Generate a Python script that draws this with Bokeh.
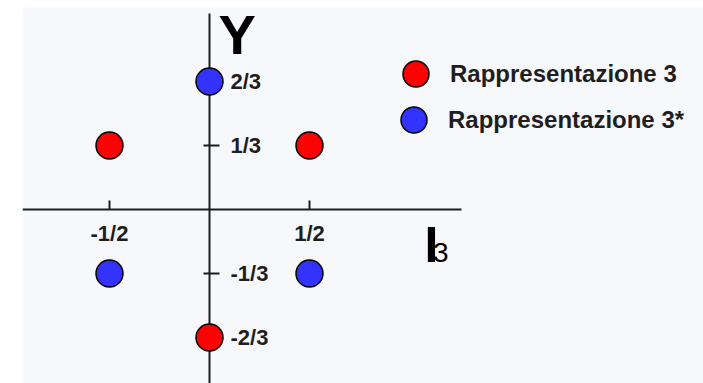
from bokeh.plotting import figure
from bokeh.models import (LinearAxis, FixedTicker, Label, Legend, LegendItem,
                          Range1d)
from bokeh.embed import file_html
from bokeh.resources import INLINE

# Weight diagram (I3, Y) of the quark triplet 3 and the antitriplet 3*
series_names = ["Rappresentazione 3", "Rappresentazione 3*"]
rep3_i3 = [-1/2, 1/2, 0]
rep3_y = [1/3, 1/3, -2/3]
rep3bar_i3 = [0, -1/2, 1/2]
rep3bar_y = [2/3, -1/3, -1/3]

x_ticks = [-1/2, 1/2]
x_tick_labels = ["-1/2", "1/2"]
y_ticks = [2/3, 1/3, -1/3, -2/3]
y_tick_labels = ["2/3", "1/3", "-1/3", "-2/3"]

FONT = "Liberation Sans"
INK = "#1e1e1e"

p = figure(width=703, height=383, output_backend="svg", toolbar_location=None,
           x_axis_location=None, y_axis_location=None,
           x_range=Range1d(-0.935, 2.47), y_range=Range1d(-0.906, 1.052),
           min_border_left=22, min_border_top=7, min_border_right=0,
           min_border_bottom=0)
p.grid.visible = False
p.outline_line_color = None
p.background_fill_color = "#f7f8fc"
p.border_fill_color = "white"

# Horizontal I3 axis through the origin
xaxis = LinearAxis(fixed_location=0, bounds=(-0.935, 1.26),
                   ticker=FixedTicker(ticks=x_ticks),
                   major_label_overrides=dict(zip(x_ticks, x_tick_labels)))
xaxis.major_tick_in = 9
xaxis.major_tick_out = 0
xaxis.major_label_standoff = 11
xaxis.minor_tick_line_color = None
xaxis.level = "underlay"
p.add_layout(xaxis, "below")

# Vertical Y axis through the origin, labels on its right
yaxis = LinearAxis(fixed_location=0, bounds=(-1.0, 1.02),
                   ticker=FixedTicker(ticks=y_ticks),
                   major_label_overrides=dict(zip(y_ticks, y_tick_labels)))
yaxis.major_tick_in = 6
yaxis.major_tick_out = 10
yaxis.major_label_standoff = 11
yaxis.minor_tick_line_color = None
yaxis.level = "underlay"
p.add_layout(yaxis, "right")

for ax in (xaxis, yaxis):
    ax.axis_line_width = 2
    ax.axis_line_color = INK
    ax.major_tick_line_width = 2
    ax.major_tick_line_color = INK
    ax.major_label_text_font = FONT
    ax.major_label_text_font_style = "bold"
    ax.major_label_text_font_size = "22px"
    ax.major_label_text_color = INK

r3 = p.scatter(x=rep3_i3, y=rep3_y, size=27, marker="circle",
               fill_color="#ff0000", line_color="black", line_width=1.5)
r3bar = p.scatter(x=rep3bar_i3, y=rep3bar_y, size=27, marker="circle",
                  fill_color="#3333ff", line_color="black", line_width=1.5)

# Axis titles
title_style = dict(text_font=FONT, text_color="black",
                   text_baseline="alphabetic")
p.add_layout(Label(x=0.045, y=0.91, text="Y", text_font_style="bold",
                   text_font_size="56px", **title_style))
p.add_layout(Label(x=1.075, y=-0.187, text="I", text_font_style="bold",
                   text_font_size="50px", **title_style))
p.add_layout(Label(x=1.117, y=-0.222, text="3",
                   text_font_size="28px", **title_style))


def legend_entry(label, renderer, loc):
    lg = Legend(items=[LegendItem(label=label, renderers=[renderer])],
                location=loc, orientation="vertical")
    lg.glyph_height = 65
    lg.glyph_width = 65
    lg.padding = 0
    lg.margin = 0
    lg.label_standoff = 2
    lg.border_line_color = None
    lg.background_fill_alpha = 0
    lg.label_text_font = FONT
    lg.label_text_font_style = "bold"
    lg.label_text_font_size = "24px"
    lg.label_text_color = INK
    return lg


p.add_layout(legend_entry(series_names[0], r3, (361, 277)))
p.add_layout(legend_entry(series_names[1], r3bar, (359, 231)))

open("out.html", "w").write(file_html(p, INLINE))
